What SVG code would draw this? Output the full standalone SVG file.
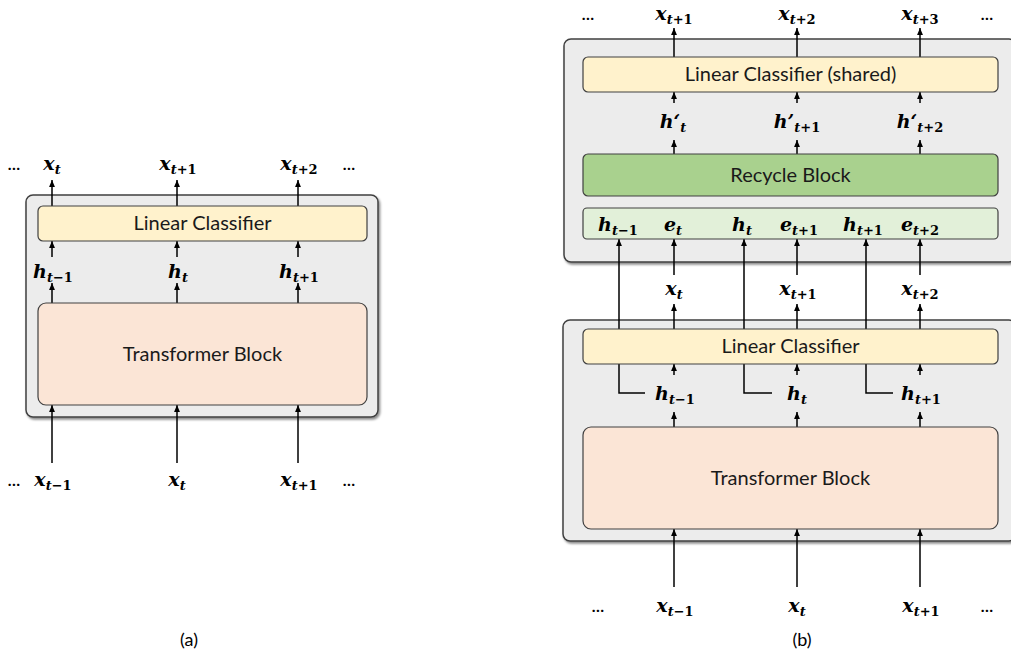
<svg xmlns="http://www.w3.org/2000/svg" width="1011" height="658" viewBox="0 0 1011 658">
<defs>
<marker id="ah" viewBox="0 0 10 10" refX="10" refY="5" markerWidth="7" markerHeight="7" orient="auto" markerUnits="userSpaceOnUse">
<path d="M0,0.8 L10,5 L0,9.2 z" fill="#000"/>
</marker>
<filter id="sh" x="-5%" y="-5%" width="110%" height="115%">
<feDropShadow dx="1.5" dy="2" stdDeviation="1" flood-color="#000" flood-opacity="0.45"/>
</filter>
</defs>
<style>
.outer{fill:#ECECEC;stroke:#404040;stroke-width:1.5;filter:url(#sh)}
.lc{fill:#FFF2CC;stroke:#404040;stroke-width:1.2}
.tb{fill:#FBE5D6;stroke:#404040;stroke-width:1.2}
.rb{fill:#A9D18E;stroke:#404040;stroke-width:1.2}
.er{fill:#E2F0D9;stroke:#404040;stroke-width:1.2}
.lbl{font-family:Lato,"Noto Sans",sans-serif;font-size:20px;fill:#1a1a1a;text-anchor:middle}
.m{font-family:"DejaVu Serif","Liberation Serif",serif;font-size:19px;font-weight:bold;font-style:italic;fill:#000;text-anchor:middle}
.s{font-size:13px}
.u{font-style:normal}
.dots{font-family:Lato,"Noto Sans",sans-serif;font-size:16px;font-weight:bold;fill:#000;text-anchor:middle}
.cap{font-family:Lato,"Noto Sans",sans-serif;font-size:18px;fill:#000;text-anchor:middle}
.c line,.c path{stroke:#000;stroke-width:1.5;fill:none;marker-end:url(#ah)}
</style>

<!-- ===== (a) ===== -->
<g id="a-outer"><rect class="outer" x="26" y="195" width="352" height="222" rx="7"/></g>
<g id="a-connectors" class="c">
<line x1="52" y1="206" x2="52" y2="180"/>
<line x1="177" y1="206" x2="177" y2="180"/>
<line x1="298" y1="206" x2="298" y2="180"/>
<line x1="52" y1="257" x2="52" y2="241"/>
<line x1="177" y1="257" x2="177" y2="241"/>
<line x1="298" y1="257" x2="298" y2="241"/>
<line x1="52" y1="303" x2="52" y2="283"/>
<line x1="177" y1="303" x2="177" y2="283"/>
<line x1="298" y1="303" x2="298" y2="283"/>
<line x1="52" y1="463" x2="52" y2="405"/>
<line x1="177" y1="463" x2="177" y2="405"/>
<line x1="298" y1="463" x2="298" y2="405"/>
</g>
<g id="a-lc"><rect class="lc" x="38" y="206" width="329" height="35" rx="5"/><text class="lbl" x="202.5" y="230">Linear Classifier</text></g>
<g id="a-tb"><rect class="tb" x="38" y="303" width="329" height="102" rx="8"/><text class="lbl" x="202.5" y="361">Transformer Block</text></g>
<g id="a-labels">
<text class="dots" x="14" y="170">…</text>
<text class="m" x="52" y="170">x<tspan class="s" dy="4">t</tspan></text>
<text class="m" x="178" y="170">x<tspan class="s" dy="4">t<tspan class="u">+1</tspan></tspan></text>
<text class="m" x="299" y="170">x<tspan class="s" dy="4">t<tspan class="u">+2</tspan></tspan></text>
<text class="dots" x="349" y="170">…</text>
<text class="m" x="53" y="278">h<tspan class="s" dy="4">t<tspan class="u">−1</tspan></tspan></text>
<text class="m" x="178" y="278">h<tspan class="s" dy="4">t</tspan></text>
<text class="m" x="299" y="278">h<tspan class="s" dy="4">t<tspan class="u">+1</tspan></tspan></text>
<text class="dots" x="14" y="486">…</text>
<text class="m" x="53" y="486">x<tspan class="s" dy="4">t<tspan class="u">−1</tspan></tspan></text>
<text class="m" x="177" y="486">x<tspan class="s" dy="4">t</tspan></text>
<text class="m" x="299" y="486">x<tspan class="s" dy="4">t<tspan class="u">+1</tspan></tspan></text>
<text class="dots" x="349" y="486">…</text>
<text class="cap" x="189" y="646">(a)</text>
</g>

<!-- ===== (b) ===== -->
<g id="b-outer-top"><rect class="outer" x="564" y="39" width="452" height="223" rx="7"/></g>
<g id="b-outer-bottom"><rect class="outer" x="563" y="320" width="453" height="221" rx="7"/></g>
<g id="b-connectors" class="c">
<line x1="674" y1="57" x2="674" y2="28"/>
<line x1="797" y1="57" x2="797" y2="28"/>
<line x1="920" y1="57" x2="920" y2="28"/>
<line x1="674" y1="103" x2="674" y2="92"/>
<line x1="797" y1="103" x2="797" y2="92"/>
<line x1="920" y1="103" x2="920" y2="92"/>
<line x1="674" y1="154" x2="674" y2="140"/>
<line x1="797" y1="154" x2="797" y2="140"/>
<line x1="920" y1="154" x2="920" y2="140"/>
<line x1="674" y1="275" x2="674" y2="239"/>
<line x1="797" y1="275" x2="797" y2="239"/>
<line x1="920" y1="275" x2="920" y2="239"/>
<line x1="674" y1="329" x2="674" y2="304"/>
<line x1="797" y1="329" x2="797" y2="304"/>
<line x1="920" y1="329" x2="920" y2="304"/>
<path d="M645,393 H619 V239"/>
<path d="M772,393 H744 V239"/>
<path d="M893,393 H866 V239"/>
<line x1="674" y1="375" x2="674" y2="364"/>
<line x1="797" y1="375" x2="797" y2="364"/>
<line x1="920" y1="375" x2="920" y2="364"/>
<line x1="674" y1="427" x2="674" y2="412"/>
<line x1="797" y1="427" x2="797" y2="412"/>
<line x1="920" y1="427" x2="920" y2="412"/>
<line x1="674" y1="587" x2="674" y2="529"/>
<line x1="797" y1="587" x2="797" y2="529"/>
<line x1="920" y1="587" x2="920" y2="529"/>
</g>
<g id="b-lc-shared"><rect class="lc" x="583" y="57" width="415" height="35" rx="5"/><text class="lbl" x="790.5" y="81">Linear Classifier (shared)</text></g>
<g id="b-recycle"><rect class="rb" x="583" y="154" width="415" height="42" rx="5"/><text class="lbl" x="790.5" y="182">Recycle Block</text></g>
<g id="b-embed"><rect class="er" x="583" y="208" width="415" height="31" rx="4"/>
<text class="m" x="618" y="231">h<tspan class="s" dy="4">t<tspan class="u">−1</tspan></tspan></text>
<text class="m" x="673" y="231">e<tspan class="s" dy="4">t</tspan></text>
<text class="m" x="742" y="231">h<tspan class="s" dy="4">t</tspan></text>
<text class="m" x="799" y="231">e<tspan class="s" dy="4">t<tspan class="u">+1</tspan></tspan></text>
<text class="m" x="863" y="231">h<tspan class="s" dy="4">t<tspan class="u">+1</tspan></tspan></text>
<text class="m" x="920" y="231">e<tspan class="s" dy="4">t<tspan class="u">+2</tspan></tspan></text>
</g>
<g id="b-lc"><rect class="lc" x="583" y="329" width="415" height="35" rx="5"/><text class="lbl" x="790.5" y="353">Linear Classifier</text></g>
<g id="b-tb"><rect class="tb" x="583" y="427" width="415" height="102" rx="8"/><text class="lbl" x="790.5" y="485">Transformer Block</text></g>
<g id="b-labels">
<text class="dots" x="588" y="20">…</text>
<text class="m" x="674" y="20">x<tspan class="s" dy="4">t<tspan class="u">+1</tspan></tspan></text>
<text class="m" x="797" y="20">x<tspan class="s" dy="4">t<tspan class="u">+2</tspan></tspan></text>
<text class="m" x="920" y="20">x<tspan class="s" dy="4">t<tspan class="u">+3</tspan></tspan></text>
<text class="dots" x="987" y="20">…</text>
<text class="m" x="673" y="128">h‘<tspan class="s" dy="4">t</tspan></text>
<text class="m" x="797" y="128">h’<tspan class="s" dy="4">t<tspan class="u">+1</tspan></tspan></text>
<text class="m" x="920" y="128">h‘<tspan class="s" dy="4">t<tspan class="u">+2</tspan></tspan></text>
<text class="m" x="674" y="295">x<tspan class="s" dy="4">t</tspan></text>
<text class="m" x="798" y="295">x<tspan class="s" dy="4">t<tspan class="u">+1</tspan></tspan></text>
<text class="m" x="920" y="295">x<tspan class="s" dy="4">t<tspan class="u">+2</tspan></tspan></text>
<text class="m" x="675" y="400">h<tspan class="s" dy="4">t<tspan class="u">−1</tspan></tspan></text>
<text class="m" x="797" y="400">h<tspan class="s" dy="4">t</tspan></text>
<text class="m" x="921" y="400">h<tspan class="s" dy="4">t<tspan class="u">+1</tspan></tspan></text>
<text class="dots" x="598" y="612">…</text>
<text class="m" x="675" y="612">x<tspan class="s" dy="4">t<tspan class="u">−1</tspan></tspan></text>
<text class="m" x="797" y="612">x<tspan class="s" dy="4">t</tspan></text>
<text class="m" x="921" y="612">x<tspan class="s" dy="4">t<tspan class="u">+1</tspan></tspan></text>
<text class="dots" x="987" y="612">…</text>
<text class="cap" x="802" y="646">(b)</text>
</g>
</svg>
